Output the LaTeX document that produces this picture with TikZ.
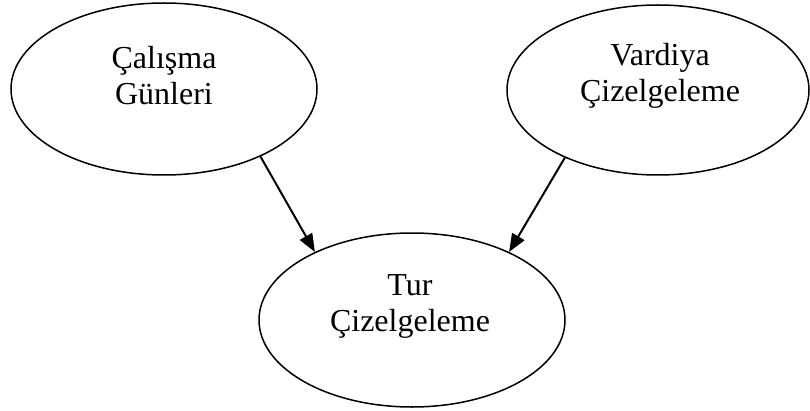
\documentclass[tikz,border=0pt]{standalone}
\usepackage{fontspec}
\setmainfont{Liberation Serif}
\usetikzlibrary{arrows.meta,shapes.geometric}
\begin{document}
\begin{tikzpicture}[x=1pt,y=1pt,
  oval/.style={draw=black, line width=1.5pt, ellipse, inner sep=0pt},
  lbl/.style={align=center, font=\fontsize{32}{36}\selectfont, inner sep=0pt},
  arr/.style={draw=black, line width=2pt, -{Triangle[length=18pt,width=14pt]}, shorten >=0pt}
]
\useasboundingbox (0,0) rectangle (810,410);
\node[oval, minimum width=306pt, minimum height=172pt] (A) at (164,321) {};
\node[oval, minimum width=302pt, minimum height=170pt] (B) at (658,320) {};
\node[oval, minimum width=306pt, minimum height=174pt] (C) at (412,90) {};
\node[lbl] (At) at (164,334) {Çalışma\\Günleri};
\node[lbl] (Bt) at (660,334) {Vardiya\\Çizelgeleme};
\node[lbl] (Ct) at (410,104) {Tur\\Çizelgeleme};
\draw[arr] (A.-35) -- (C.145);
\draw[arr] (B.216) -- (C.35);
\end{tikzpicture}
\end{document}
